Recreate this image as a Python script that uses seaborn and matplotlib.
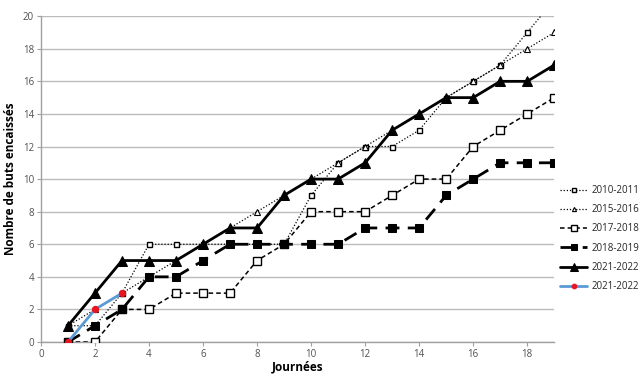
import numpy as np
import pandas as pd
import seaborn as sns
from matplotlib import pyplot as plt

# data
days = list(range(1, 20))
s_2010 = [1, 1, 3, 6, 6, 6, 6, 6, 6, 9, 11, 12, 12, 13, 15, 16, 17, 19, 21]
s_2015 = [1, 2, 3, 4, 5, 6, 7, 8, 9, 10, 11, 12, 13, 14, 15, 16, 17, 18, 19]
s_2017 = [0, 0, 2, 2, 3, 3, 3, 5, 6, 8, 8, 8, 9, 10, 10, 12, 13, 14, 15]
s_2018 = [0, 1, 2, 4, 4, 5, 6, 6, 6, 6, 6, 7, 7, 7, 9, 10, 11, 11, 11]
s_2021 = [1, 3, 5, 5, 5, 6, 7, 7, 9, 10, 10, 11, 13, 14, 15, 15, 16, 16, 17]
days_cur = [1, 2, 3]
s_cur = [0, 2, 3]

sns.set_theme(style="white")
plt.rcParams['font.family'] = ['Open Sans', 'DejaVu Sans']

fig = plt.figure(figsize=(6.4, 3.76), dpi=100)
ax = fig.add_axes([0.064, 0.0904, 0.802, 0.8666])

# one call per series, Excel-like styles
sns.lineplot(x=days, y=s_2010, ax=ax, color='black', lw=0.9, linestyle=(0, (1, 1.5)),
             marker='s', markersize=3.6, markerfacecolor='white', markeredgecolor='black',
             markeredgewidth=1, label='2010-2011', zorder=3)
sns.lineplot(x=days, y=s_2015, ax=ax, color='black', lw=0.9, linestyle=(0, (1, 1.5)),
             marker='^', markersize=4, markerfacecolor='white', markeredgecolor='black',
             markeredgewidth=0.8, label='2015-2016', zorder=3)
sns.lineplot(x=days, y=s_2017, ax=ax, color='black', lw=1.1, linestyle=(0, (3, 2)),
             marker='s', markersize=6, markerfacecolor='white', markeredgecolor='black',
             markeredgewidth=1, label='2017-2018', zorder=3)
sns.lineplot(x=days, y=s_2018, ax=ax, color='black', lw=2, linestyle=(0, (5, 3)),
             marker='s', markersize=6, markerfacecolor='black', markeredgecolor='black',
             label='2018-2019', zorder=3)
sns.lineplot(x=days, y=s_2021, ax=ax, color='black', lw=2, linestyle='-',
             marker='^', markersize=7, markerfacecolor='black', markeredgecolor='black',
             label='2021-2022', zorder=3)
sns.lineplot(x=days_cur, y=s_cur, ax=ax, color='#5b9bd5', lw=2, linestyle='-',
             marker='o', markersize=4.5, markerfacecolor='#e8141e', markeredgecolor='#e8141e',
             label='2021-2022', zorder=4)

ax.set_xlim(0, 19)
ax.set_ylim(0, 20)
ax.set_xticks(np.arange(0, 19, 2))
ax.set_yticks(np.arange(0, 21, 2))
ax.yaxis.grid(True, color='#bcbcbc', lw=1)
ax.set_axisbelow(True)
for side in ['top', 'right']:
    ax.spines[side].set_visible(False)
for side in ['left', 'bottom']:
    ax.spines[side].set_color('#a0a0a0')
    ax.spines[side].set_linewidth(1)
ax.tick_params(axis='both', which='both', length=3, width=0.8, color='#a0a0a0',
               labelsize=7, labelcolor='#505050', direction='out', bottom=True, left=True, pad=2)
ax.set_xlabel('Journées', fontsize=8.5, fontweight='bold', color='black', labelpad=0)
ax.set_ylabel('Nombre de buts encaissés', fontsize=8.5, fontweight='bold', color='black', labelpad=4)

ax.legend(loc='upper left', bbox_to_anchor=(1.0, 0.5), frameon=False, fontsize=7,
          handlelength=2.8, handletextpad=0.4, labelspacing=0.85, borderaxespad=0.2,
          markerscale=0.75)

plt.savefig('out.png', dpi=100)
